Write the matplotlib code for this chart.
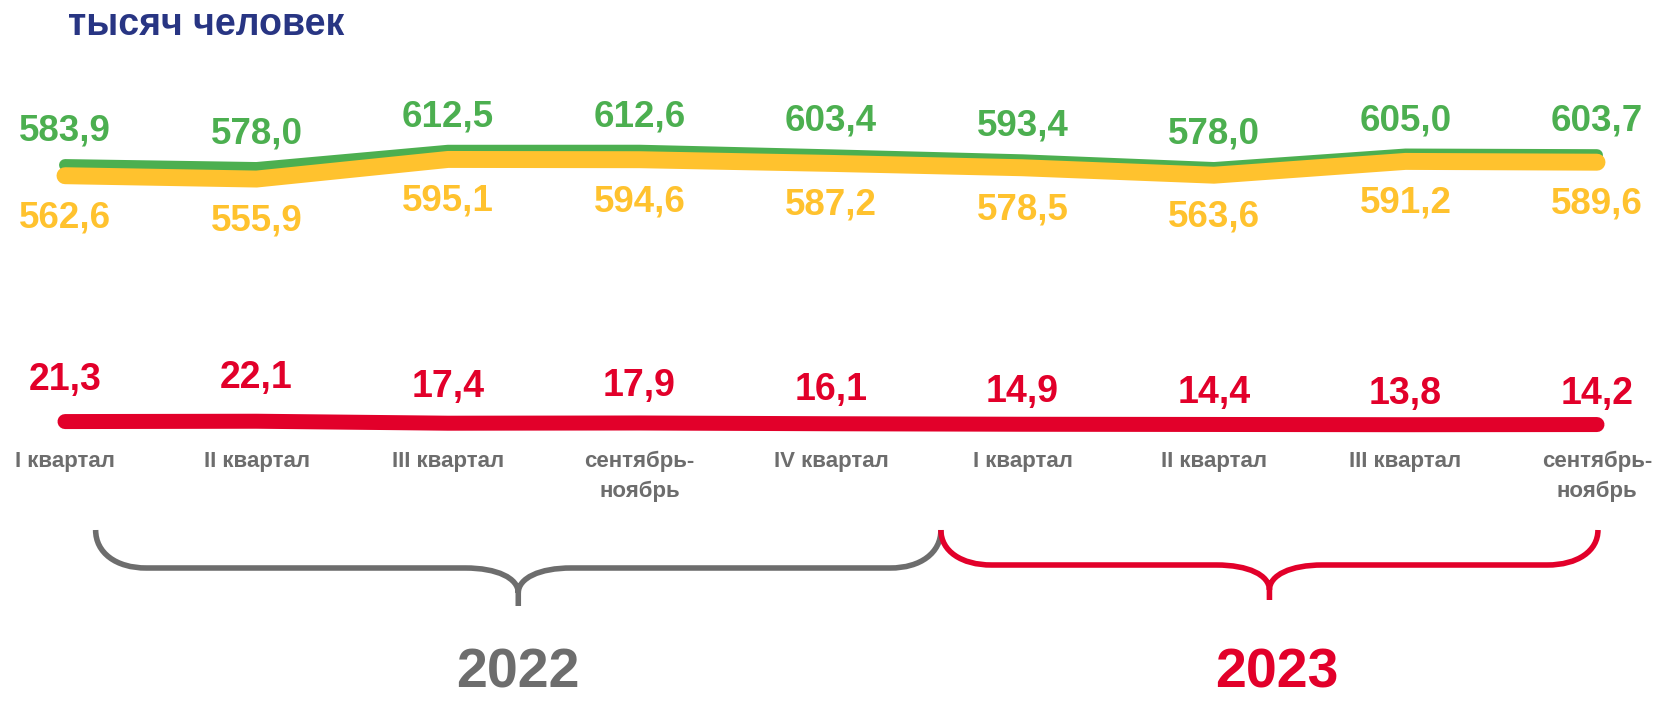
import matplotlib
matplotlib.use("Agg")
import matplotlib.pyplot as plt
from matplotlib.path import Path
from matplotlib.patches import PathPatch

plt.rcParams['font.family'] = ['Liberation Sans', 'DejaVu Sans']
plt.rcParams['font.weight'] = 'bold'

categories = ['I квартал', 'II квартал', 'III квартал', 'сентябрь-\nноябрь', 'IV квартал',
              'I квартал', 'II квартал', 'III квартал', 'сентябрь-\nноябрь']
labor_force = [583.9, 578.0, 612.5, 612.6, 603.4, 593.4, 578.0, 605.0, 603.7]
employed = [562.6, 555.9, 595.1, 594.6, 587.2, 578.5, 563.6, 591.2, 589.6]
unemployed = [21.3, 22.1, 17.4, 17.9, 16.1, 14.9, 14.4, 13.8, 14.2]
years = ['2022', '2023']
year_spans = [(0.16, 4.574), (4.574, 8.005)]

GREEN = '#4caf50'
YELLOW = '#ffc22e'
RED = '#e2002a'
GRAY = '#6d6d6d'
NAVY = '#283583'

W, H = 1658, 701
x0, dx = 65, 191.5
xlim = (-x0 / dx, (W - x0) / dx)
xs = list(range(len(categories)))

fig = plt.figure(figsize=(W / 100, H / 100), dpi=100)


def overlay(ylim):
    a = fig.add_axes([0, 0, 1, 1])
    a.set_xlim(xlim)
    a.set_ylim(ylim)
    a.axis('off')
    a.patch.set_alpha(0)
    return a


base = overlay((H, 0))            # pixel rows, for decorations
ax = overlay((-488, 914))         # green / yellow
axr = overlay((-644, 1025))       # red line
axl = overlay((-142.4, 226.6))    # red labels

ax.plot(xs, labor_force, color=GREEN, lw=8.6, solid_capstyle='round', solid_joinstyle='round')
ax.plot(xs, employed, color=YELLOW, lw=12.2, solid_capstyle='round', solid_joinstyle='round')
axr.plot(xs, unemployed, color=RED, lw=10.8, solid_capstyle='round', solid_joinstyle='round')


def fmt(v):
    return f'{v:.1f}'.replace('.', ',')


for i in xs:
    ax.annotate(fmt(labor_force[i]), (i, labor_force[i]), xytext=(0, 24.5),
                textcoords='offset pixels', ha='center', va='baseline',
                fontsize=26.5, color=GREEN)
    ax.annotate(fmt(employed[i]), (i, employed[i]), xytext=(0, -51.5),
                textcoords='offset pixels', ha='center', va='baseline',
                fontsize=26.5, color=YELLOW)
    axl.text(i, unemployed[i], fmt(unemployed[i]), ha='center', va='baseline',
             fontsize=27, color=RED)
    for k, line in enumerate(categories[i].split('\n')):
        base.text(i, 467 + 30 * k, line, ha='center', va='baseline', fontsize=16,
                  color=GRAY)


def brace(a, x1, x2, color, ytop, ybar, ycusp, ytip):
    xm = (x1 + x2) / 2
    r = 0.265
    rm = 0.277
    verts = [(x1, ytop),
             (x1, ytop + 0.6 * (ybar - ytop)), (x1 + 0.4 * r, ybar), (x1 + r, ybar),
             (xm - rm, ybar),
             (xm - 0.4 * rm, ybar), (xm, ybar + 0.4 * (ycusp - ybar)), (xm, ycusp),
             (xm, ytip), (xm, ycusp),
             (xm, ybar + 0.4 * (ycusp - ybar)), (xm + 0.4 * rm, ybar), (xm + rm, ybar),
             (x2 - r, ybar),
             (x2 - 0.4 * r, ybar), (x2, ytop + 0.6 * (ybar - ytop)), (x2, ytop)]
    codes = [Path.MOVETO,
             Path.CURVE4, Path.CURVE4, Path.CURVE4,
             Path.LINETO,
             Path.CURVE4, Path.CURVE4, Path.CURVE4,
             Path.LINETO, Path.MOVETO,
             Path.CURVE4, Path.CURVE4, Path.CURVE4,
             Path.LINETO,
             Path.CURVE4, Path.CURVE4, Path.CURVE4]
    a.add_patch(PathPatch(Path(verts, codes), fill=False, edgecolor=color, lw=4,
                          capstyle='butt', joinstyle='round'))


brace(base, *year_spans[0], GRAY, 530, 568, 593, 606)
brace(base, *year_spans[1], RED, 530, 565, 590, 600)

base.text(sum(year_spans[0]) / 2, 688, years[0], ha='center', va='baseline',
          fontsize=40, color=GRAY)
base.text(sum(year_spans[1]) / 2 + 0.04, 688, years[1], ha='center', va='baseline',
          fontsize=40, color=RED)

fig.text(68 / W, 1 - 35 / H, 'тысяч человек', ha='left', va='baseline',
         fontsize=27, color=NAVY)

fig.savefig('out.png', dpi=100)
